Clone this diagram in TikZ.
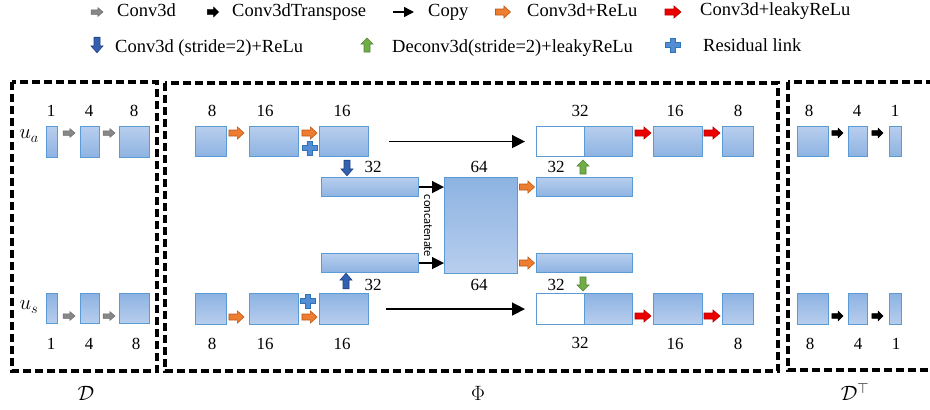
\documentclass[tikz,border=0pt]{standalone}
\usepackage{fontspec}
\setmainfont{Liberation Serif}
\newfontfamily\carl{Carlito}
\usetikzlibrary{arrows.meta}
\definecolor{bline}{RGB}{91,155,213}
\definecolor{blite}{RGB}{184,206,237}
\definecolor{bdark}{RGB}{141,179,226}
\definecolor{orF}{RGB}{237,125,49}
\definecolor{orD}{RGB}{190,88,20}
\definecolor{rdF}{RGB}{235,0,0}
\definecolor{rdD}{RGB}{190,0,0}
\definecolor{gyF}{RGB}{135,135,135}
\definecolor{gyD}{RGB}{110,110,110}
\definecolor{buF}{RGB}{52,96,176}
\definecolor{buD}{RGB}{32,64,130}
\definecolor{gnF}{RGB}{112,173,71}
\definecolor{gnD}{RGB}{84,130,53}
\definecolor{plF}{RGB}{84,141,212}
\definecolor{plD}{RGB}{46,117,182}
\tikzset{
  blkT/.style={draw=bline, line width=1.1pt, top color=blite, bottom color=bdark, inner sep=0pt, anchor=north west},
  blkB/.style={draw=bline, line width=1.1pt, top color=bdark, bottom color=blite, inner sep=0pt, anchor=north west},
  blkW/.style={draw=bline, line width=1.1pt, fill=white, inner sep=0pt, anchor=north west},
  fat/.pic={\path[pic actions] (-8,-3) -- (1,-3) -- (1,-6) -- (8,0) -- (1,6) -- (1,3) -- (-8,3) -- cycle;},
  plus/.pic={\path[pic actions] (-2.7,-7) -- (2.7,-7) -- (2.7,-2.7) -- (7.5,-2.7) -- (7.5,2.7) -- (2.7,2.7) -- (2.7,7) -- (-2.7,7) -- (-2.7,2.7) -- (-7.5,2.7) -- (-7.5,-2.7) -- (-2.7,-2.7) -- cycle;},
  orA/.style={fill=orF, draw=orD, line width=0.6pt, xscale=0.94},
  rdA/.style={fill=rdF, draw=rdD, line width=0.6pt},
  gyA/.style={fill=gyF, draw=gyD, line width=0.5pt, xscale=0.75, yscale=0.75},
  bkA/.style={fill=black, draw=black, line width=0.5pt, xscale=0.7, yscale=0.8},
  buA/.style={fill=buF, draw=buD, line width=0.6pt, rotate=-90, xscale=0.97, yscale=1.0},
  buU/.style={fill=buF, draw=buD, line width=0.6pt, rotate=90, xscale=0.97, yscale=1.0},
  gnU/.style={fill=gnF, draw=gnD, line width=0.6pt, rotate=90, xscale=0.88, yscale=1.0},
  gnD/.style={fill=gnF, draw=gnD, line width=0.6pt, rotate=-90, xscale=0.88, yscale=1.0},
  plA/.style={fill=plF, draw=plD, line width=0.6pt},
  copyA/.style={line width=1.5pt, -{Triangle[length=13pt,width=13pt]}},
  copyS/.style={line width=1.5pt, -{Triangle[length=10pt,width=10pt]}},
  catA/.style={line width=1.5pt, -{Triangle[length=12pt,width=12pt]}},
  dbox/.style={line width=3.2pt, dash pattern=on 8pt off 4pt},
  num/.style={font=\fontsize{17}{19}\selectfont, inner sep=0pt},
  leg/.style={font=\fontsize{18.5}{21}\selectfont, inner sep=0pt, anchor=base west},
  ml/.style={font=\fontsize{22}{24}\selectfont, inner sep=0pt},
  bl/.style={font=\fontsize{22}{24}\selectfont, inner sep=0pt}
}
\newcommand\blk[6]{\node[#1, minimum width={#4-#2}, minimum height={#5-#3}] (#6) at (#2,#3) {};}
\begin{document}
\begin{tikzpicture}[x=1pt,y=-1pt]
\clip (0,0) rectangle (930,410);
% legend
\pic[gyA] at (97,12) {fat};
\node[leg] (l1) at (117,16) {Conv3d};
\pic[bkA] at (213,12) {fat};
\node[leg] (l2) at (232,16) {Conv3dTranspose};
\coordinate (cpA) at (393,12);
\coordinate (cpB) at (414,12);
\draw[copyS] (cpA) -- (cpB);
\node[leg] (l3) at (428,16) {Copy};
\pic[orA] at (503,12) {fat};
\node[leg] (l4) at (527,16) {Conv3d+ReLu};
\pic[rdA] at (673,12) {fat};
\node[leg] (l5) at (700,15) {Conv3d+leakyReLu};
\pic[buA] at (97,45) {fat};
\node[leg] (l6) at (115,52) {Conv3d (stride=2)+ReLu};
\pic[gnU] at (367,45) {fat};
\node[leg] (l7) at (392,52) {Deconv3d(stride=2)+leakyReLu};
\pic[plA] at (673,45) {plus};
\node[leg] (l8) at (703,51) {Residual link};
% dashed boxes
\draw[dbox] (12,82) rectangle (157,371);
\draw[dbox] (165,83) rectangle (778,371);
\draw[dbox] (788,82) rectangle (945,370);
\node[bl] (lD) at (86,393) {$\mathcal{D}$};
\node[bl] (lP) at (478,393) {$\Phi$};
\node[bl] (lDT) at (855,392) {$\mathcal{D}^{\top}$};
% D
\node[ml] (ua) at (29,136) {$u_a$};
\node[ml] (us) at (29,307) {$u_s$};
\blk{blkT}{46}{126}{57}{157}{d1}
\blk{blkT}{80}{126}{99}{157}{d2}
\blk{blkT}{119}{126}{149}{157}{d3}
\blk{blkB}{46}{293}{57}{323}{e1}
\blk{blkB}{80}{293}{99}{323}{e2}
\blk{blkB}{119}{293}{149}{323}{e3}
\pic[gyA] at (69,133) {fat};
\pic[gyA] at (109,133) {fat};
\pic[gyA] at (69,316) {fat};
\pic[gyA] at (109,316) {fat};
\node[num] (n1) at (51,111) {1};
\node[num] (n2) at (89,111) {4};
\node[num] (n3) at (134,111) {8};
\node[num] (n4) at (51,344) {1};
\node[num] (n5) at (89,344) {4};
\node[num] (n6) at (136,344) {8};
% Phi top
\blk{blkT}{195}{126}{226}{156}{A1}
\blk{blkT}{249}{126}{298}{156}{A2}
\blk{blkT}{319}{126}{368}{156}{A3}
\pic[orA] at (236.5,133) {fat};
\pic[orA] at (309.5,133) {fat};
\pic[plA] at (309.5,148) {plus};
\blk{blkT}{321}{177}{418}{196}{B1}
\pic[buA] at (347,168) {fat};
\blk{blkB}{444}{177}{517}{273}{M}
\blk{blkT}{536}{177}{632}{196}{B2}
\pic[gnU] at (583,167) {fat};
\blk{blkW}{536}{126}{584}{156}{C1L}
\blk{blkT}{584}{126}{632}{156}{C1R}
\pic[rdA] at (643,133) {fat};
\blk{blkT}{653}{126}{702}{156}{E1}
\pic[rdA] at (712,133) {fat};
\blk{blkT}{722}{126}{753}{156}{E2}
\draw[copyA] ([xshift=20pt]A3.east) -- ([xshift=-11pt]C1L.west);
\draw[catA] (B1.east) -- (B1.east -| M.west);
\pic[orA] at (527,187) {fat};
% Phi bottom
\blk{blkB}{195}{293}{226}{324}{A4}
\blk{blkB}{249}{293}{298}{324}{A5}
\blk{blkB}{319}{293}{368}{324}{A6}
\pic[orA] at (236.5,317) {fat};
\pic[orA] at (309.5,317) {fat};
\pic[plA] at (308,301) {plus};
\blk{blkT}{321}{253}{418}{272}{B3}
\pic[buU] at (346,281) {fat};
\blk{blkT}{536}{253}{632}{272}{B4}
\pic[gnD] at (583,284) {fat};
\blk{blkW}{536}{293}{584}{324}{C2L}
\blk{blkB}{584}{293}{632}{324}{C2R}
\pic[rdA] at (643,316) {fat};
\blk{blkB}{653}{293}{702}{324}{E3}
\pic[rdA] at (712,316) {fat};
\blk{blkB}{722}{293}{753}{324}{E4}
\draw[copyA] ([xshift=17pt]A6.east) -- ([xshift=-11pt]C2L.west);
\draw[catA] (B3.east) -- (B3.east -| M.west);
\pic[orA] at (527,263) {fat};
\node[font=\carl\fontsize{12.5}{14}\selectfont, rotate=-90, inner sep=0pt] (cat) at (428,226) {concatenate};
% Phi labels
\node[num] (p1) at (212,111) {8};
\node[num] (p2) at (265,111) {16};
\node[num] (p3) at (342,111) {16};
\node[num] (p4) at (373,167) {32};
\node[num] (p5) at (479,167) {64};
\node[num] (p6) at (556,167) {32};
\node[num] (p7) at (580,111) {32};
\node[num] (p8) at (675,111) {16};
\node[num] (p9) at (738,111) {8};
\node[num] (q1) at (212,344) {8};
\node[num] (q2) at (265,344) {16};
\node[num] (q3) at (342,344) {16};
\node[num] (q4) at (373,285) {32};
\node[num] (q5) at (479,285) {64};
\node[num] (q6) at (556,285) {32};
\node[num] (q7) at (580,343) {32};
\node[num] (q8) at (675,344) {16};
\node[num] (q9) at (738,344) {8};
% D^T
\blk{blkT}{797}{126}{828}{156}{f1}
\blk{blkT}{848}{126}{867}{156}{f2}
\blk{blkT}{889}{126}{901}{156}{f3}
\blk{blkB}{797}{293}{828}{324}{g1}
\blk{blkB}{848}{293}{867}{324}{g2}
\blk{blkB}{889}{293}{901}{324}{g3}
\pic[bkA] at (837.5,133) {fat};
\pic[bkA] at (877.5,133) {fat};
\pic[bkA] at (837.5,316) {fat};
\pic[bkA] at (877.5,316) {fat};
\node[num] (r1) at (809,111) {8};
\node[num] (r2) at (857,111) {4};
\node[num] (r3) at (895,111) {1};
\node[num] (r4) at (810,344) {8};
\node[num] (r5) at (858,344) {4};
\node[num] (r6) at (896,344) {1};
\end{tikzpicture}
\end{document}
